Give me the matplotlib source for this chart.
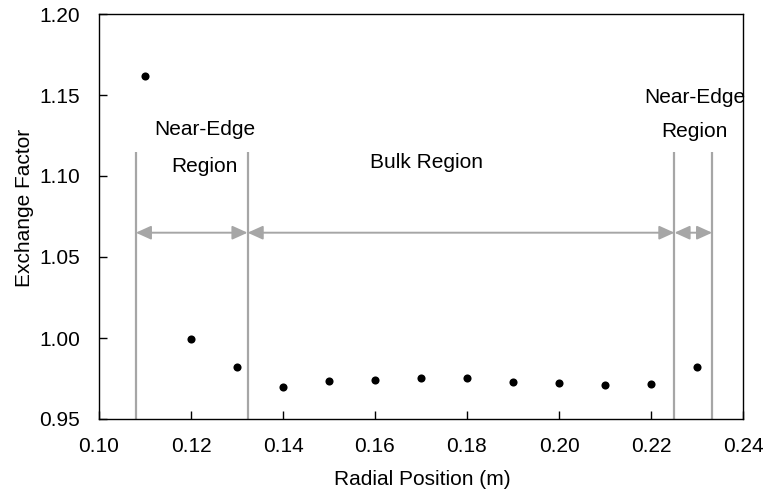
import matplotlib
matplotlib.use("Agg")
import matplotlib.pyplot as plt

plt.rcParams['font.family'] = ['Liberation Sans', 'DejaVu Sans']

# Radial position (m) and exchange factor
radial_position = [0.11, 0.12, 0.13, 0.14, 0.15, 0.16, 0.17, 0.18, 0.19, 0.20, 0.21, 0.22, 0.23]
exchange_factor = [1.162, 0.9996, 0.9823, 0.9698, 0.9735, 0.9739, 0.9751, 0.9755, 0.9727, 0.9720, 0.9712, 0.9716, 0.9821]

# Region boundaries (m)
boundaries = [0.108, 0.1323, 0.2251, 0.2333]
boundary_top = 1.115
arrow_y = 1.065

x_ticks = [0.10, 0.12, 0.14, 0.16, 0.18, 0.20, 0.22, 0.24]
y_ticks = [0.95, 1.00, 1.05, 1.10, 1.15, 1.20]

FS = 15
GRAY = '#A6A6A6'

fig = plt.figure(figsize=(7.66, 4.93), dpi=100)
ax = fig.add_axes([99 / 766, 1 - 419 / 493, (743 - 99) / 766, (419 - 14) / 493])

ax.set_xlim(0.10, 0.24)
ax.set_ylim(0.95, 1.20)

for b in boundaries:
    ax.plot([b, b], [0.95, boundary_top], color=GRAY, lw=1.6, zorder=1, solid_capstyle='butt')

for x0, x1 in zip(boundaries[:-1], boundaries[1:]):
    ax.annotate('', xy=(x0, arrow_y), xytext=(x1, arrow_y),
                arrowprops=dict(arrowstyle='<|-|>,head_length=0.42,head_width=0.19',
                                color=GRAY, lw=1.4, mutation_scale=22,
                                shrinkA=0, shrinkB=0),
                zorder=1)

ax.scatter(radial_position, exchange_factor, s=34, color='black', zorder=3, linewidths=0)

ax.text(0.1229, 1.1253, 'Near-Edge', ha='center', va='baseline', fontsize=FS)
ax.text(0.1230, 1.1027, 'Region', ha='center', va='baseline', fontsize=FS)
ax.text(0.1712, 1.1051, 'Bulk Region', ha='center', va='baseline', fontsize=FS)
ax.text(0.2295, 1.1451, 'Near-Edge', ha='center', va='baseline', fontsize=FS)
ax.text(0.2295, 1.1241, 'Region', ha='center', va='baseline', fontsize=FS)

ax.set_xticks(x_ticks)
ax.set_xticklabels([f'{t:.2f}' for t in x_ticks], fontsize=FS)
ax.set_yticks(y_ticks)
ax.set_yticklabels([f'{t:.2f}' for t in y_ticks], fontsize=FS)
ax.tick_params(direction='in', length=6, width=1.0)
ax.tick_params(axis='x', pad=13)
ax.tick_params(axis='y', pad=13.5)
for s in ax.spines.values():
    s.set_linewidth(1.0)
    s.set_color('black')

ax.set_xlabel('Radial Position (m)', fontsize=FS)
ax.set_ylabel('Exchange Factor', fontsize=FS)
ax.xaxis.set_label_coords(0.502, -0.126)
ax.yaxis.set_label_coords(-0.101, 0.522)

fig.savefig('out.png', dpi=100)
